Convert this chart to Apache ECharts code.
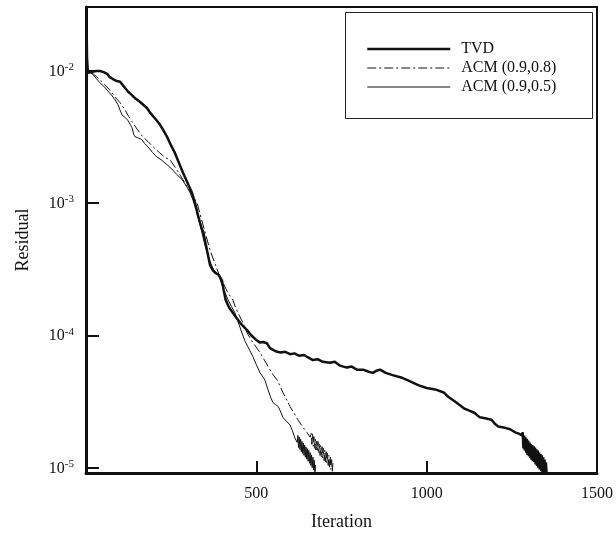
<!DOCTYPE html>
<html>
<head>
<meta charset="utf-8">
<script src="https://cdn.jsdelivr.net/npm/echarts@6/dist/echarts.min.js"></script>
<style>
html,body{margin:0;padding:0;background:#fff;}
#chart{width:616px;height:536px;}
</style>
</head>
<body>
<div id="chart"></div>
<script>
// ---- data ----
const seriesNames = ['TVD', 'ACM (0.9,0.8)', 'ACM (0.9,0.5)'];
const xTicks = [500, 1000, 1500];

const tvdIter = [1,3,5,7,12,18,30,41,52,62,70,79,90,100,107,114,124,135,146,158,168,179,188,197,207,217,228,238,250,261,273,285,298,311,320,329,338,345,355,364,372,380,390,399,404,410,420,431,442,455,472,485,498,511,520,531,540,552,561,572,585,599,612,625,640,652,666,680,695,716,730,745,766,780,795,813,830,842,853,863,880,900,925,950,975,1000,1025,1050,1065,1080,1095,1110,1125,1140,1156,1175,1190,1200,1210,1230,1245,1260,1272,1280,
  1282,1284,1286,1288,1290,1292,1294,1296,1298,1300,1302,1304,1306,1308,1310,1312,1314,1316,1318,1320,1322,1324,1326,1328,1330,1332,1334,1336,1338,1340,1342,1344,1346,1348,1350,1352];
const tvdRes = [0.030,0.0125,0.0102,0.0096,0.0097,0.00975,0.0099,0.0099,0.0097,0.0094,0.0089,0.0086,0.0083,0.0082,0.0078,0.0074,0.0069,0.0065,0.0061,0.0058,0.0055,0.0052,0.0048,0.0045,0.0042,0.0039,0.0035,0.00315,0.0027,0.00238,0.0020,0.00168,0.00142,0.00119,0.00100,0.00080,0.00066,0.00059,0.00044,0.00034,0.00031,0.000295,0.000285,0.00026,0.00022,0.000185,0.000162,0.000148,0.000135,0.000122,0.00011,0.0001,9.3e-5,8.8e-5,8.9e-5,8.7e-5,8.0e-5,7.7e-5,7.5e-5,7.4e-5,7.5e-5,7.2e-5,7.3e-5,7.0e-5,7.1e-5,6.8e-5,6.5e-5,6.6e-5,6.3e-5,6.2e-5,6.3e-5,5.9e-5,5.7e-5,5.8e-5,5.5e-5,5.5e-5,5.3e-5,5.2e-5,5.4e-5,5.5e-5,5.2e-5,5.0e-5,4.8e-5,4.5e-5,4.2e-5,4.0e-5,3.9e-5,3.7e-5,3.4e-5,3.2e-5,3.0e-5,2.8e-5,2.7e-5,2.6e-5,2.4e-5,2.35e-5,2.3e-5,2.15e-5,2.05e-5,2.0e-5,1.95e-5,1.85e-5,1.8e-5,1.75e-5,
  1.85e-5,1.4e-5,1.75e-5,1.35e-5,1.7e-5,1.3e-5,1.65e-5,1.25e-5,1.6e-5,1.22e-5,1.55e-5,1.18e-5,1.5e-5,1.15e-5,1.48e-5,1.12e-5,1.45e-5,1.1e-5,1.42e-5,1.06e-5,1.38e-5,1.03e-5,1.35e-5,1.0e-5,1.3e-5,9.7e-6,1.27e-5,9.4e-6,1.24e-5,9.2e-6,1.2e-5,9.2e-6,1.15e-5,9.2e-6,1.1e-5,9.2e-6];

const acm08Iter = [1,3,5,9,14,22,32,41,55,70,85,100,115,125,135,150,167,182,197,215,232,247,265,285,300,314,326,335,348,364,380,392,402,416,431,440,446,460,473,490,511,525,540,550,561,570,578,588,599,610,622,635,649,658,
  661,663,665,667,669,671,673,675,677,679,681,683,685,687,689,691,693,695,697,699,701,703,705,707,709,711,713,715,717,719,721,723,725];
const acm08Res = [0.030,0.012,0.0099,0.0096,0.0097,0.0094,0.0089,0.0085,0.0078,0.0071,0.0063,0.0057,0.0050,0.0045,0.0041,0.0036,0.00315,0.0029,0.00265,0.0024,0.0022,0.00211,0.0018,0.00149,0.00128,0.00112,0.00100,0.00082,0.00062,0.00044,0.00034,0.00028,0.00025,0.00021,0.000185,0.00016,0.000148,0.000125,0.000104,8.8e-5,7.4e-5,6.4e-5,5.5e-5,5.0e-5,4.6e-5,4.1e-5,3.7e-5,3.3e-5,2.9e-5,2.6e-5,2.3e-5,2.05e-5,1.84e-5,1.7e-5,
  1.85e-5,1.5e-5,1.8e-5,1.45e-5,1.72e-5,1.4e-5,1.68e-5,1.36e-5,1.62e-5,1.32e-5,1.58e-5,1.28e-5,1.52e-5,1.24e-5,1.48e-5,1.2e-5,1.44e-5,1.17e-5,1.4e-5,1.13e-5,1.36e-5,1.1e-5,1.32e-5,1.07e-5,1.28e-5,1.04e-5,1.24e-5,1.01e-5,1.2e-5,9.7e-6,1.15e-5,9.4e-6,1.1e-5];

const acm05Iter = [1,3,5,9,14,20,30,40,52,62,75,85,94,100,106,115,123,130,135,140,144,152,164,172,182,195,208,222,238,252,267,282,296,305,314,325,335,349,364,375,382,390,399,408,417,427,437,447,458,467,475,490,500,511,518,525,534,542,549,556,564,570,578,588,599,606,613,620,
  622,624,626,628,630,632,634,636,638,640,642,644,646,648,650,652,654,656,658,660,662,664,666,668,670,672,674];
const acm05Res = [0.030,0.012,0.0098,0.0095,0.0096,0.0093,0.0087,0.0081,0.0076,0.0071,0.0065,0.0060,0.0055,0.0050,0.0046,0.0044,0.0042,0.0039,0.0037,0.0033,0.00315,0.0031,0.0030,0.0028,0.00265,0.0024,0.00222,0.0021,0.00194,0.0018,0.00163,0.0015,0.00132,0.0012,0.00105,0.00085,0.00068,0.00048,0.00036,0.00031,0.00030,0.00028,0.00024,0.00021,0.000185,0.000165,0.000148,0.000125,0.000104,9.0e-5,8.2e-5,6.9e-5,6.0e-5,5.2e-5,4.9e-5,4.6e-5,3.9e-5,3.4e-5,3.1e-5,3.0e-5,2.9e-5,2.7e-5,2.4e-5,2.25e-5,2.1e-5,1.9e-5,1.68e-5,1.55e-5,
  1.75e-5,1.42e-5,1.7e-5,1.37e-5,1.64e-5,1.32e-5,1.58e-5,1.28e-5,1.53e-5,1.24e-5,1.48e-5,1.2e-5,1.43e-5,1.16e-5,1.39e-5,1.12e-5,1.35e-5,1.08e-5,1.3e-5,1.04e-5,1.25e-5,1.0e-5,1.2e-5,9.6e-6,1.14e-5,9.2e-6,1.05e-5];

function pairs(xs, ys) { return xs.map((x, i) => [x, ys[i]]); }

const FONT = 'Liberation Serif';
const chart = echarts.init(document.getElementById('chart'), null, {renderer: 'canvas'});

chart.setOption({
  animation: false,
  backgroundColor: '#fff',
  color: ['#111', '#111', '#111'],
  grid: {
    left: 86, right: 19, top: 7, bottom: 63,
    show: true, borderColor: '#111', borderWidth: 2, backgroundColor: 'transparent'
  },
  xAxis: {
    type: 'value', min: 0, max: 1500, interval: 500,
    name: 'Iteration', nameLocation: 'middle', nameGap: 40,
    nameTextStyle: {fontFamily: FONT, fontSize: 18, color: '#111'},
    axisLine: {show: true, onZero: false, lineStyle: {color: '#111', width: 3}},
    axisTick: {show: true, inside: true, length: 12, lineStyle: {color: '#111', width: 2}},
    axisLabel: {
      show: true, margin: 13, color: '#111', fontFamily: FONT, fontSize: 16,
      showMinLabel: false,
      formatter: v => (xTicks.indexOf(v) >= 0 ? String(v) : '')
    },
    splitLine: {show: false}
  },
  yAxis: {
    type: 'log', logBase: 10, min: 9.12e-6, max: 0.0301,
    name: 'Residual', nameLocation: 'middle', nameGap: 54, nameRotate: 90,
    nameTextStyle: {fontFamily: FONT, fontSize: 18, color: '#111'},
    axisLine: {show: true, onZero: false, lineStyle: {color: '#111', width: 3}},
    axisTick: {show: true, inside: true, length: 13, lineStyle: {color: '#111', width: 2}},
    axisLabel: {
      show: true, margin: 12, color: '#111', fontFamily: FONT,
      showMinLabel: false, showMaxLabel: false,
      formatter: function (v) {
        const e = Math.log10(v);
        const r = Math.round(e);
        if (Math.abs(e - r) > 0.01) return '';
        return '{b|10}{s|' + r + '}';
      },
      rich: {
        b: {fontFamily: FONT, fontSize: 16, color: '#111', lineHeight: 18, verticalAlign: 'bottom'},
        s: {fontFamily: FONT, fontSize: 11, color: '#111', lineHeight: 18, verticalAlign: 'top', padding: [0, 0, 6, 0]}
      }
    },
    splitLine: {show: false},
    minorTick: {show: false}
  },
  legend: {
    show: true, orient: 'vertical', left: 366, top: 41, padding: 0,
    itemWidth: 83, itemHeight: 14, itemGap: 3,
    data: [
      {name: seriesNames[0], lineStyle: {width: 2.5}},
      {name: seriesNames[1], lineStyle: {width: 1}},
      {name: seriesNames[2], lineStyle: {width: 1}}
    ],
    itemStyle: {opacity: 0},
    textStyle: {fontFamily: FONT, fontSize: 16, color: '#111', lineHeight: 14, height: 14, padding: [0, 0, 0, 6]},
    selectedMode: false
  },
  graphic: [{
    type: 'rect', left: 345, top: 12, z: 100, silent: true,
    shape: {width: 247, height: 106},
    style: {fill: 'transparent', stroke: '#222', lineWidth: 1}
  }],
  series: [
    {
      name: seriesNames[0], type: 'line', symbol: 'none', showSymbol: false, z: 3,
      data: pairs(tvdIter, tvdRes),
      itemStyle: {color: '#111'},
      lineStyle: {color: '#111', width: 2.5}
    },
    {
      name: seriesNames[1], type: 'line', symbol: 'none', showSymbol: false, z: 2,
      data: pairs(acm08Iter, acm08Res),
      itemStyle: {color: '#111'},
      lineStyle: {color: '#111', width: 1, type: [9, 3, 2, 3]}
    },
    {
      name: seriesNames[2], type: 'line', symbol: 'none', showSymbol: false, z: 2,
      data: pairs(acm05Iter, acm05Res),
      itemStyle: {color: '#111'},
      lineStyle: {color: '#111', width: 1}
    }
  ]
});
</script>
</body>
</html>
